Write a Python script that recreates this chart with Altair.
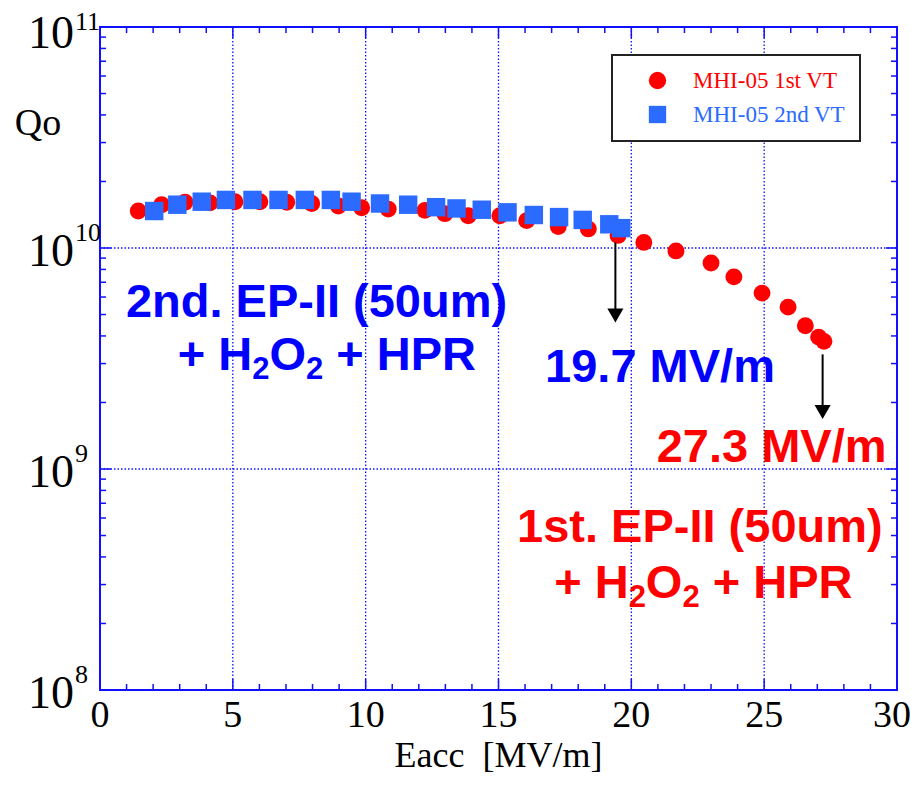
import altair as alt
import pandas as pd

# ---- data ----
vt1_eacc = [1.44, 2.32, 3.2, 4.14, 5.08, 6.02, 7.03, 7.97, 8.97, 9.85, 10.85, 12.23, 12.98, 13.86,
            15.05, 16.06, 17.25, 18.38, 19.5, 20.47, 21.68, 23.0, 23.86, 24.92, 25.9, 26.55, 27.05, 27.25]
vt1_q = [1.47e10, 1.57e10, 1.61e10, 1.60e10, 1.62e10, 1.62e10, 1.61e10, 1.59e10, 1.55e10, 1.52e10,
         1.50e10, 1.48e10, 1.43e10, 1.40e10, 1.40e10, 1.33e10, 1.25e10, 1.22e10, 1.14e10, 1.06e10,
         9.7e9, 8.55e9, 7.4e9, 6.25e9, 5.4e9, 4.45e9, 3.95e9, 3.78e9]

vt2_eacc = [2.04, 2.91, 3.83, 4.74, 5.74, 6.72, 7.71, 8.69, 9.47, 10.54, 11.60, 12.65, 13.42, 14.37,
            15.34, 16.33, 17.28, 18.17, 19.17, 19.62]
vt2_q = [1.47e10, 1.57e10, 1.62e10, 1.65e10, 1.65e10, 1.65e10, 1.65e10, 1.65e10, 1.62e10, 1.59e10,
         1.57e10, 1.53e10, 1.51e10, 1.49e10, 1.45e10, 1.41e10, 1.38e10, 1.34e10, 1.28e10, 1.23e10]

series_names = ["MHI-05 1st VT", "MHI-05 2nd VT"]
series_colors = ["#ff0000", "#2b6bff"]
series_shapes = ["circle", "square"]

NB = "\u00a0"
x_ticks = [0, 5, 10, 15, 20, 25, 30]
x_tick_labels = ["0", "5", "10", "15", "20", "25", "30"]
y_ticks = [1e8, 1e9, 1e10, 1e11]
y_tick_base = ["10", "10", "10", "10"]
y_tick_exp = ["8", "9", "10", "11"]
x_title = "Eacc" + NB + NB + "[MV/m]"
y_title = "Qo"

# annotations (data coordinates)
arrow_x = [19.4, 27.2]
arrow_from = [1.06e10, 3.3e9]
arrow_head = [4.95e9, 1.81e9]

blue_text = ["2nd. EP-II (50um)", "19.7 MV/m"]
blue_x = [8.15, 21.08]
blue_y = [4.89e9, 2.48e9]
red_text = ["27.3 MV/m", "1st. EP-II (50um)"]
red_x = [25.28, 22.58]
red_y = [1.08e9, 4.69e8]

# "+ H2O2 + HPR" lines, built from pieces (text, is_subscript, leading gap in em)
chem_pieces = [("+" + NB + "H", False, 0.0), ("2", True, 0.0), ("O", False, 0.0), ("2", True, 0.0),
               ("+" + NB + "HPR", False, 0.278)]
chem_blue_xy = (8.54, 2.81e9)
chem_red_xy = (22.71, 2.60e8)

# ---- layout ----
W, H = 797, 663
AXIS_BLUE = "#1010ff"
SERIF = "Liberation Serif"
SANS = "Liberation Sans"
FS_MAIN = 47
FS_SUB = 31

xscale = alt.Scale(domain=[0, 30], nice=False, zero=False)
yscale = alt.Scale(type="log", domain=[1e8, 1e11], nice=False)


def X(field):
    return alt.X(field, scale=xscale, axis=None)


def Y(field):
    return alt.Y(field, scale=yscale, axis=None)


df1 = pd.DataFrame({"Eacc": vt1_eacc, "Qo": vt1_q, "series": series_names[0]})
df2 = pd.DataFrame({"Eacc": vt2_eacc, "Qo": vt2_q, "series": series_names[1]})

legend = alt.Legend(
    title=None, orient="none", legendX=512, legendY=28,
    strokeColor="#222222", fillColor="white", padding=14,
    symbolOffset=20, symbolSize=300, symbolStrokeWidth=0,
    labelFont=SERIF, labelFontSize=23, labelOffset=24, rowPadding=10,
    labelColor={"expr": "datum.value === 'MHI-05 1st VT' ? '#ff0000' : '#2b6bff'"},
)
color_enc = alt.Color("series:N", scale=alt.Scale(domain=series_names, range=series_colors), legend=legend)
shape_enc = alt.Shape("series:N", scale=alt.Scale(domain=series_names, range=series_shapes), legend=legend)

pts1 = alt.Chart(df1).mark_point(filled=True, size=285, opacity=1, strokeWidth=0).encode(
    x=X("Eacc:Q"), y=Y("Qo:Q"), color=color_enc, shape=shape_enc)
pts2 = alt.Chart(df2).mark_point(filled=True, size=340, opacity=1, strokeWidth=0).encode(
    x=X("Eacc:Q"), y=Y("Qo:Q"), color=color_enc, shape=shape_enc)

# grid lines (dotted blue)
xgrid = alt.Chart(pd.DataFrame({"t": x_ticks[1:-1]})).mark_rule(
    color=AXIS_BLUE, strokeWidth=1.3, strokeDash=[1.5, 2]).encode(
    x=X("t:Q"), y=alt.value(0), y2=alt.value(H))
ygrid = alt.Chart(pd.DataFrame({"t": y_ticks[1:-1]})).mark_rule(
    color=AXIS_BLUE, strokeWidth=1.3, strokeDash=[1.5, 2]).encode(
    y=Y("t:Q"), x=alt.value(0), x2=alt.value(W))

# tick marks (inward, all four sides)
xt_minor = pd.DataFrame({"t": [v for v in range(0, 31) if v % 5]})
xt_major = pd.DataFrame({"t": x_ticks})
yt_minor = pd.DataFrame({"t": [m * 10.0 ** e for e in (8, 9, 10) for m in range(2, 10)]})
yt_major = pd.DataFrame({"t": y_ticks})


def xticks(df, ln):
    return [alt.Chart(df).mark_rule(color=AXIS_BLUE, strokeWidth=1.5).encode(
        x=X("t:Q"), y=alt.value(y0), y2=alt.value(y1)) for y0, y1 in [(H, H - ln), (0, ln)]]


def yticks(df, ln):
    return [alt.Chart(df).mark_rule(color=AXIS_BLUE, strokeWidth=1.5).encode(
        y=Y("t:Q"), x=alt.value(x0), x2=alt.value(x1)) for x0, x1 in [(0, ln), (W, W - ln)]]


tick_layers = xticks(xt_minor, 6) + xticks(xt_major, 11) + yticks(yt_minor, 6) + yticks(yt_major, 11)

frame = alt.Chart(pd.DataFrame({"a": [0]})).mark_rect(
    fill=None, stroke=AXIS_BLUE, strokeWidth=2).encode(
    x=alt.value(0), x2=alt.value(W), y=alt.value(0), y2=alt.value(H))

# tick labels and titles
xlab_df = pd.DataFrame({"t": x_ticks, "s": x_tick_labels})
xlab_main = alt.Chart(xlab_df.iloc[:-1]).mark_text(
    font=SERIF, fontSize=38, color="black", align="center", baseline="alphabetic").encode(
    x=X("t:Q"), y=alt.value(H + 37), text="s:N")
xlab_last = alt.Chart(xlab_df.iloc[-1:]).mark_text(
    font=SERIF, fontSize=38, color="black", align="center", baseline="alphabetic", dx=-5).encode(
    x=X("t:Q"), y=alt.value(H + 37), text="s:N")
ylab_df = pd.DataFrame({"t": y_ticks, "b": y_tick_base, "e": y_tick_exp})
ylab_base_low = alt.Chart(ylab_df.iloc[:-1]).mark_text(
    font=SERIF, fontSize=46, color="black", align="right", baseline="alphabetic", dy=18).encode(
    y=Y("t:Q"), x=alt.value(-26), text="b:N")
ylab_base_top = alt.Chart(ylab_df.iloc[-1:]).mark_text(
    font=SERIF, fontSize=46, color="black", align="right", baseline="alphabetic", dy=21).encode(
    y=Y("t:Q"), x=alt.value(-26), text="b:N")
ylab_exp_low = alt.Chart(ylab_df.iloc[:-1]).mark_text(
    font=SERIF, fontSize=26, color="black", align="left", baseline="alphabetic", dy=-7).encode(
    y=Y("t:Q"), x=alt.value(-25), text="e:N")
ylab_exp_top = alt.Chart(ylab_df.iloc[-1:]).mark_text(
    font=SERIF, fontSize=26, color="black", align="left", baseline="alphabetic", dy=3).encode(
    y=Y("t:Q"), x=alt.value(-25), text="e:N")
xtitle = alt.Chart(pd.DataFrame({"s": [x_title]})).mark_text(
    font=SERIF, fontSize=36, color="black", align="center", baseline="alphabetic").encode(
    x=alt.value(W / 2), y=alt.value(H + 77), text="s:N")
ytitle = alt.Chart(pd.DataFrame({"s": [y_title]})).mark_text(
    font=SERIF, fontSize=38, color="black", align="center", baseline="alphabetic").encode(
    x=alt.value(-62), y=alt.value(108), text="s:N")

arrows_df = pd.DataFrame({"x": arrow_x, "y0": arrow_from, "y1": arrow_head})
arrow_lines = alt.Chart(arrows_df).mark_rule(color="black", strokeWidth=2).encode(
    x=X("x:Q"), y=Y("y0:Q"), y2="y1:Q")
arrow_heads = alt.Chart(arrows_df).mark_point(shape="triangle-down", filled=True, size=260,
                                              color="black", opacity=1).encode(
    x=X("x:Q"), y=Y("y1:Q"))


def text_layer(xs, ys, texts, color):
    df = pd.DataFrame({"x": xs, "y": ys, "t": texts})
    return alt.Chart(df).mark_text(font=SANS, fontWeight="bold", fontSize=FS_MAIN, color=color,
                                   align="center", baseline="alphabetic").encode(
        x=X("x:Q"), y=Y("y:Q"), text="t:N")


# Liberation Sans Bold advance widths (per 1000 em)
ADV = {"+": 584, NB: 278, " ": 278, "H": 722, "O": 778, "P": 667, "R": 722, "2": 556}


def piece_width(s, sub):
    return sum(ADV[c] for c in s) * (FS_SUB if sub else FS_MAIN) / 1000.0


def chem_layers(xy, color):
    total = sum(piece_width(s, sub) + gap * FS_MAIN for s, sub, gap in chem_pieces)
    off = -total / 2.0
    layers = []
    df = pd.DataFrame({"x": [xy[0]], "y": [xy[1]]})
    for s, sub, gap in chem_pieces:
        off += gap * FS_MAIN
        layers.append(alt.Chart(df).mark_text(
            font=SANS, fontWeight="bold", fontSize=FS_SUB if sub else FS_MAIN, color=color,
            align="left", baseline="alphabetic", dx=off, dy=9 if sub else 0, text=s).encode(
            x=X("x:Q"), y=Y("y:Q")))
        off += piece_width(s, sub)
    return layers


chart = alt.layer(
    xgrid, ygrid, pts1, pts2, *tick_layers, frame, arrow_lines, arrow_heads,
    xlab_main, xlab_last, ylab_base_low, ylab_base_top, ylab_exp_low, ylab_exp_top, xtitle, ytitle,
    text_layer(blue_x, blue_y, blue_text, "#0000ff"),
    text_layer(red_x, red_y, red_text, "#ff0000"),
    *chem_layers(chem_blue_xy, "#0000ff"),
    *chem_layers(chem_red_xy, "#ff0000"),
).properties(
    width=W, height=H,
    autosize=alt.AutoSizeParams(type="none"),
    padding={"left": 92, "top": 19, "right": 15, "bottom": 87},
).configure_view(
    stroke=None, fill="white"
).configure(background="white").configure_legend(strokeWidth=2)

chart.save("out.html", embed_options={"renderer": "svg", "actions": False})
